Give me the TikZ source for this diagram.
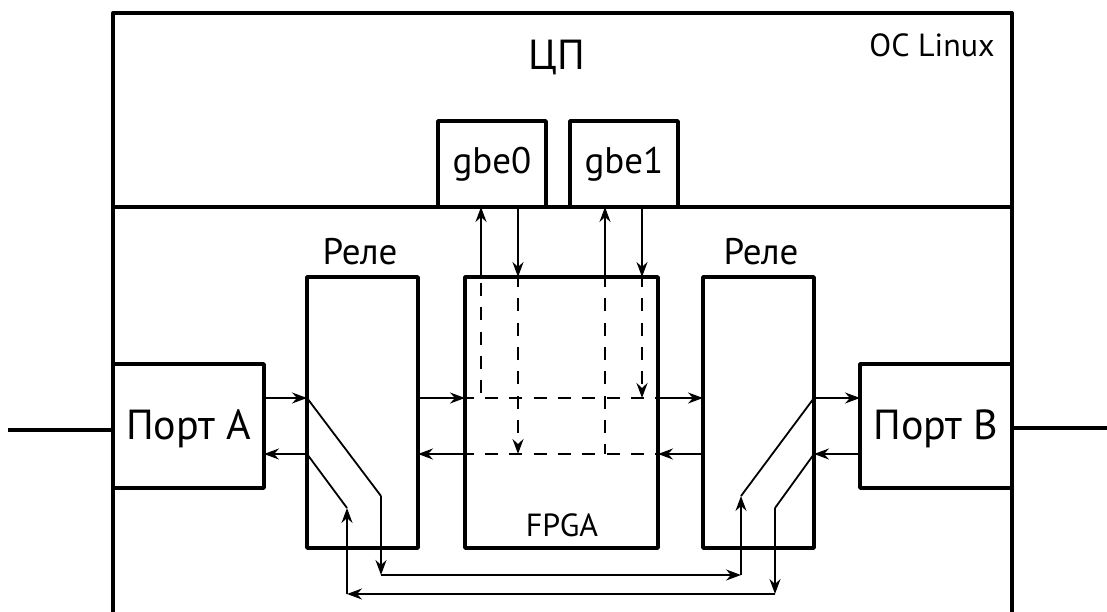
\documentclass[tikz,border=0pt]{standalone}
\usepackage{fontspec}
\usetikzlibrary{arrows.meta,positioning}
\setmainfont{PT Sans}
\begin{document}
\begin{tikzpicture}[x=1pt,y=-1pt,line join=round,node distance=24pt,
 b/.style={draw,line width=3.6pt,outer sep=0pt,inner sep=0pt,align=center},
 a/.style={-{Stealth[length=15pt,width=11pt,inset=5pt]},line width=1.8pt},
 s/.style={line width=1.8pt},
 d/.style={line width=1.8pt,dash pattern=on 13pt off 11.3pt,dash phase=#1},d/.default=3pt,
 da/.style={a,d}]
\useasboundingbox (0,0) rectangle (1107,612);
\coordinate (fbl) at (113,612);\coordinate (ftl) at (113,13);\coordinate (ftr) at (1012,13);\coordinate (fbr) at (1012,612);
\coordinate (sl) at (113,207);\coordinate (sr) at (1012,207);
\draw[line width=4pt] (fbl)--(ftl)--(ftr)--(fbr);
\draw[line width=4pt] (sl)--(sr);
\node[font=\fontsize{42}{42}\selectfont] (cpu) at (557,58) {ЦП};
\node[font=\fontsize{32}{32}\selectfont] (os) at (932,45) {ОС Linux};
\node[b,minimum width=108pt,minimum height=86pt,font=\fontsize{37}{37}\selectfont] (gbe0) at (492,164) {gbe0};
\node[b,right=of gbe0,minimum width=108pt,minimum height=86pt,font=\fontsize{37}{37}\selectfont] (gbe1) {gbe1};
\node[b,minimum width=111pt,minimum height=271pt] (relA) at (362.5,412.5) {};
\node[b,minimum width=193pt,minimum height=271pt] (fpga) at (561.5,412.5) {};
\node[b,minimum width=111pt,minimum height=271pt] (relB) at (758.5,412.5) {};
\node[font=\fontsize{37}{37}\selectfont] (lblA) at (360,252) {Реле};
\node[font=\fontsize{37}{37}\selectfont] (lblB) at (761,252) {Реле};
\node[font=\fontsize{32}{32}\selectfont] (lblF) at (562,525) {FPGA};
\node[b,minimum width=151pt,minimum height=124pt,text depth=3pt,font=\fontsize{42}{42}\selectfont] (portA) at (188.5,426) {Порт А};
\node[b,minimum width=152pt,minimum height=124pt,text depth=3pt,font=\fontsize{42}{42}\selectfont] (portB) at (936,426) {Порт В};
\coordinate (extA) at (8,430);\coordinate (extB) at (1107,428);
\draw[line width=3.4pt] (extA)--(portA.west |- extA);
\draw[line width=3.4pt] (portB.east |- extB)--(extB);
% ports and relays
\coordinate (u0) at (0,398);\coordinate (u1) at (0,454);
\draw[a] (portA.east |- u0)--(relA.west |- u0);
\draw[a] (relA.west |- u1)--(portA.east |- u1);
\draw[a] (portB.west |- u1)--(relB.east |- u1);
\draw[a] (relB.east |- u0)--(portB.west |- u0);
% relays and fpga
\draw[a] (relA.east |- u0)--(fpga.west |- u0);
\draw[d=4.3pt] (fpga.west |- u0)--(fpga.east |- u0);
\draw[a] (fpga.east |- u0)--(relB.west |- u0);
\draw[a] (relB.west |- u1)--(fpga.east |- u1);
\draw[d=4.3pt] (fpga.west |- u1)--(fpga.east |- u1);
\draw[a] (fpga.west |- u1)--(relA.east |- u1);
% gbe links
\coordinate (v0) at (481,0);\coordinate (v1) at (518,0);\coordinate (v2) at (605,0);\coordinate (v3) at (642,0);
\draw[d=18.3pt] (v0 |- fpga.north)--(v0 |- u0);
\draw[a] (v0 |- fpga.north)--(v0 |- sl);
\draw[a] (v1 |- sl)--(v1 |- fpga.north);
\draw[da] (v1 |- fpga.north)--(v1 |- u1);
\draw[d] (v2 |- fpga.north)--(v2 |- u1);
\draw[a] (v2 |- fpga.north)--(v2 |- sl);
\draw[a] (v3 |- sl)--(v3 |- fpga.north);
\draw[da] (v3 |- fpga.north)--(v3 |- u0);
% bypass
\coordinate (k0) at (381,496);\coordinate (k1) at (347,508);\coordinate (k2) at (741,496);\coordinate (k3) at (775,508);
\coordinate (h0) at (381,575);\coordinate (h1) at (741,575);\coordinate (h2) at (775,594);\coordinate (h3) at (347,594);
\draw[s] (relA.west |- u0)--(k0);
\draw[a] (k0)--(h0);
\draw[a] (h0)--(h1);
\draw[a] (h1)--(k2);
\draw[s] (k2)--(relB.east |- u0);
\draw[s] (relB.east |- u1)--(k3);
\draw[a] (k3)--(h2);
\draw[a] (h2)--(h3);
\draw[a] (h3)--(k1);
\draw[s] (k1)--(relA.west |- u1);
\end{tikzpicture}
\end{document}
